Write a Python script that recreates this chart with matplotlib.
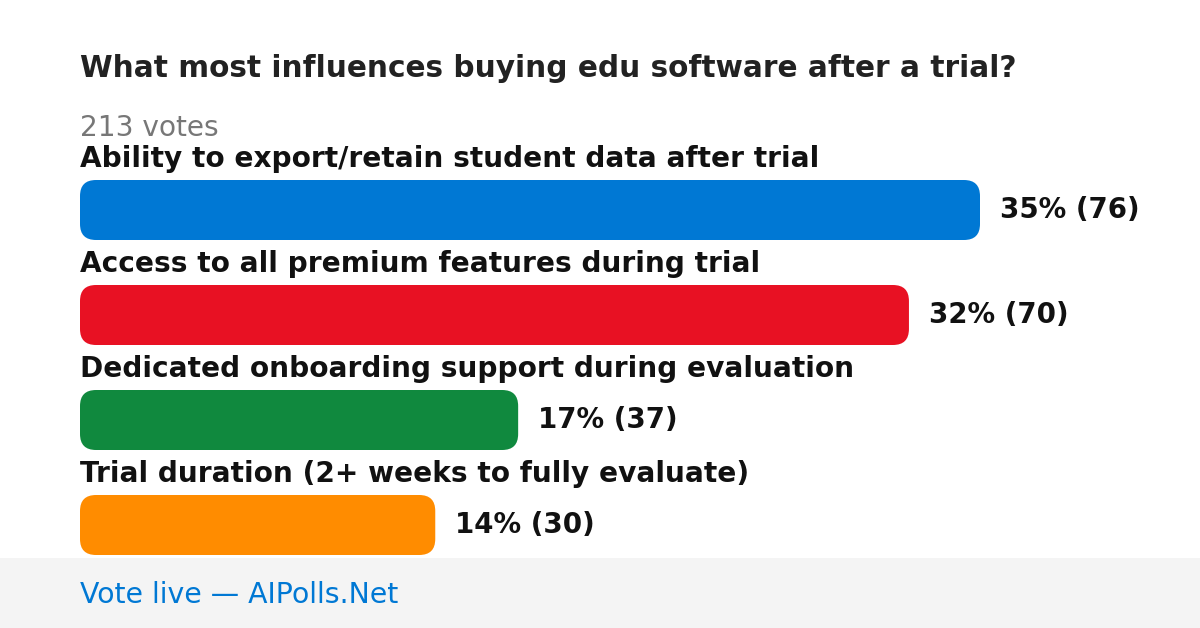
import matplotlib.pyplot as plt
from matplotlib.patches import FancyBboxPatch, Rectangle

plt.rcParams['font.family'] = ['DejaVu Sans']

title = 'What most influences buying edu software after a trial?'
total_votes = 213
options = [
    'Ability to export/retain student data after trial',
    'Access to all premium features during trial',
    'Dedicated onboarding support during evaluation',
    'Trial duration (2+ weeks to fully evaluate)',
]
votes = [76, 70, 37, 30]
percents = [35, 32, 17, 14]
colors = ['#0078d4', '#e81123', '#10893e', '#ff8c00']

W, H = 1200, 628
fig = plt.figure(figsize=(W / 100, H / 100), dpi=100)
ax = fig.add_axes([0, 0, 1, 1])
ax.set_xlim(0, W)
ax.set_ylim(H, 0)
ax.axis('off')

# layout in pixels
left = 80
max_w = 900
bar_h = 60
first_top = 180
step = 105
scale = max_w / max(votes)

ax.text(left, 77, title, fontsize=21.3, fontweight='bold', color='#222222', va='baseline')
ax.text(left, 136, f'{total_votes} votes', fontsize=20.2, color='#777777', va='baseline')

for i, (opt, v, p, c) in enumerate(zip(options, votes, percents, colors)):
    top = first_top + i * step
    w = v * scale
    ax.text(left, top - 13, opt, fontsize=20.2, fontweight='bold', color='#111111', va='baseline')
    ax.add_patch(FancyBboxPatch((left, top), w, bar_h,
                                boxstyle='round,pad=0,rounding_size=16',
                                facecolor=c, edgecolor='none'))
    ax.text(left + w + 20, top + 38, f'{p}% ({v})', fontsize=19.9,
            fontweight='bold', color='#111111', va='baseline')

# footer
ax.add_patch(Rectangle((0, 558), W, H - 558, facecolor='#f4f4f4', edgecolor='none'))
ax.text(left, 603, 'Vote live \u2014 AIPolls.Net', fontsize=20.4, color='#0078d4', va='baseline')

fig.savefig('out.png', dpi=100)
